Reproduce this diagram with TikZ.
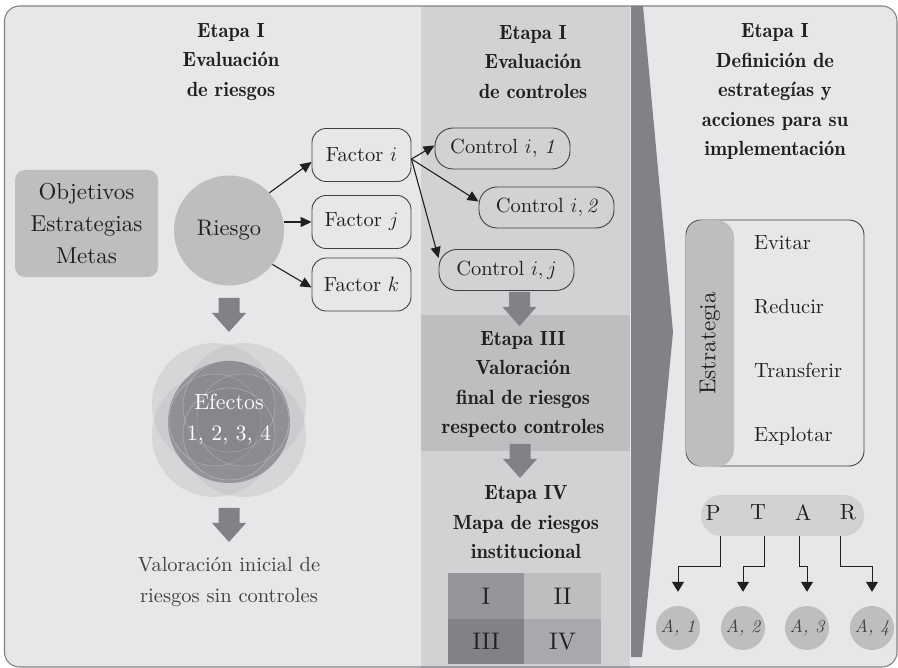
\documentclass[tikz,border=0pt]{standalone}
\usepackage{fontspec}
\setmainfont{lmroman10-regular.otf}[ItalicFont=lmroman10-italic.otf, BoldFont=lmroman10-bold.otf, BoldItalicFont=lmroman10-bolditalic.otf]
\newfontfamily\demifont{lmromandemi10-regular.otf}
\usetikzlibrary{arrows.meta}
\definecolor{bgl}{HTML}{E6E7E8}
\definecolor{midc}{HTML}{D1D2D4}
\definecolor{g2}{HTML}{BCBEC0}
\definecolor{g3}{HTML}{A7A9AC}
\definecolor{g4}{HTML}{939598}
\definecolor{g5}{HTML}{808285}
\definecolor{ink}{HTML}{231F20}
\definecolor{linec}{HTML}{414042}
\begin{document}
\begin{tikzpicture}[x=1pt,y=-1pt,
  every node/.style={text=ink, inner sep=0pt},
  head/.style={align=center, font=\demifont\fontsize{20.5}{29.5}\selectfont},
  fbox/.style={draw=linec, line width=0.9pt, rounded corners=14pt, minimum width=99pt, minimum height=53pt, font=\fontsize{20.5}{24}\selectfont},
  cbox/.style={draw=linec, line width=0.9pt, rounded corners=18pt, minimum width=135pt, minimum height=41pt, font=\fontsize{20.5}{24}\selectfont},
  arr/.style={-{Triangle[length=11pt,width=10pt]}, line width=1.1pt, draw=ink},
  arrb/.style={-{Triangle[length=10pt,width=12pt]}, line width=1pt, draw=ink, shorten >=14pt},
  cell/.style={minimum width=76.5pt, minimum height=45.5pt, font=\fontsize{24}{28}\selectfont},
  item/.style={anchor=base west, font=\fontsize{20.5}{24}\selectfont},
  letter/.style={font=\fontsize{22}{26}\selectfont},
  acirc/.style={circle, fill=g2, minimum size=44pt, text=linec, font=\itshape\fontsize{18}{20}\selectfont},
  blockdown/.pic={\fill[g5] (-10.5,0) -- (10.5,0) -- (10.5,15) -- (17,15) -- (0,34) -- (-17,15) -- (-10.5,15) -- cycle;}
]
\useasboundingbox (0,0) rectangle (898,668);
% backgrounds
\fill[bgl, rounded corners=15pt] (4.5,6) rectangle (897,667);
\fill[midc] (421,6) rectangle (630,668);
\fill[g2] (421,315) rectangle (630,451);
\fill[g5] (631,6) -- (643,6) -- (673,332) -- (642,657) -- (631,657) -- cycle;
\draw[g5, line width=1.1pt, rounded corners=15pt] (4.5,6) rectangle (897,667);

% headings
\node[head] (h1) at (231,62) {Etapa I\\Evaluación\\de riesgos};
\node[head] (h2) at (533,62) {Etapa I\\Evaluación\\de controles};
\node[head] (h3) at (775,91.5) {Etapa I\\Definición de\\estrategías y\\acciones para su\\implementación};
\node[head] (h4) at (523,384.5) {Etapa III\\Valoración\\final de riesgos\\respecto controles};
\node[head] (h5) at (526,522.5) {Etapa IV\\Mapa de riesgos\\institucional};

% left column
\node[fill=g2, rounded corners=10pt, minimum width=143pt, minimum height=107pt, align=center, font=\fontsize{23}{32}\selectfont] (obj) at (86.5,223.5) {Objetivos\\Estrategias\\Metas};
\node[circle, fill=g2, minimum size=110pt, font=\fontsize{22.5}{27}\selectfont] (r) at (229,230.5) {Riesgo};

\node[fbox] (fi) at (361.5,155) {Factor $i$};
\node[fbox] (fj) at (361.5,222) {Factor $j$};
\node[fbox] (fk) at (361.5,284.5) {Factor $k$};

\node[cbox] (c1) at (502.5,148.5) {Control $i$, \textit{1}};
\node[cbox] (c2) at (546.5,207.5) {Control $i,\mathit{2}$};
\node[cbox] (cij) at (506.5,270) {Control $i,j$};

\draw[arr] (r.43) -- ([yshift=-7pt]fi.west);
\draw[arr] (r.east |- fj.west) -- (fj.west);
\draw[arr] (r.-38) -- ([yshift=-3pt]fk.west);
\coordinate (fo) at ([yshift=-4pt]fi.east);
\draw[arr] (fo) -- ([yshift=3pt]c1.west);
\draw[arr] (fo) -- ([yshift=6pt]c2.west);
\draw[arr] (fo) -- ([yshift=12pt]cij.west);

% block arrows
\pic at (229,298) {blockdown};
\pic at (229,508) {blockdown};
\pic at (519.5,292) {blockdown};
\pic at (520,444) {blockdown};

% effects rosette
\foreach \dx/\dy in {-15/-15,15/-15,-15/15,15/15}
  \fill[g2, opacity=0.4] (229+\dx,420+\dy) circle[radius=62];
\fill[g4] (229,422) circle[radius=61];
\foreach \dx/\dy in {-14/0,14/0,0/-14,0/14}
  \filldraw[fill=g5, fill opacity=0.22, draw=white, draw opacity=0.4, line width=0.4pt] (229+\dx,420+\dy) circle[radius=46];
\node[text=white, align=center, font=\fontsize{22}{31}\selectfont] (ef) at (229,419) {Efectos\\1, 2, 3, 4};
\node[align=center, text=linec, font=\fontsize{20.5}{31}\selectfont] (vi) at (229,582) {Valoración inicial de\\riesgos sin controles};

% risk map
\node[cell, fill=g4] (m1) at (486,596) {I};
\node[cell, fill=g2] (m2) at (562.5,596) {II};
\node[cell, fill=g5] (m3) at (486,641.5) {III};
\node[cell, fill=g3] (m4) at (562.5,641.5) {IV};

% strategy
\draw[linec, line width=0.9pt, rounded corners=15pt] (686,220) rectangle (864,466);
\node[rotate=90, fill=g2, rounded corners=18pt, minimum width=247pt, minimum height=48pt, font=\fontsize{23}{27}\selectfont] (est) at (710,343.5) {Estrategia};
\node[item] (ev) at (754,250) {Evitar};
\node[item] (re) at (754,314) {Reducir};
\node[item] (tr) at (754,378) {Transferir};
\node[item] (ex) at (754,442) {Explotar};

% PTAR
\node[fill=midc, rounded corners=20pt, minimum width=163pt, minimum height=41pt] (ptar) at (782.5,515.5) {};
\node[letter] (lp) at (713,512.5) {P};
\node[letter] (lt) at (758,512.5) {T};
\node[letter] (la) at (803,512.5) {A};
\node[letter] (lr) at (848,512.5) {R};
\coordinate (s1) at ([xshift=-62.5pt]ptar.south);
\coordinate (s2) at ([xshift=-18.5pt]ptar.south);
\coordinate (s3) at ([xshift=16.5pt]ptar.south);
\coordinate (s4) at ([xshift=57.5pt]ptar.south);
\node[acirc] (a1) at (678,628) {A, 1};
\node[acirc] (a2) at (743,628) {A, 2};
\node[acirc] (a3) at (807,628) {A, 3};
\node[acirc] (a4) at (872,628) {A, 4};
\draw[arrb] (s1) -- ++(0,30) -| (a1);
\draw[arrb] (s2) -- ++(0,30) -| (a2);
\draw[arrb] (s3) -- ++(0,30) -| (a3);
\draw[arrb] (s4) -- ++(0,30) -| (a4);
\end{tikzpicture}
\end{document}
